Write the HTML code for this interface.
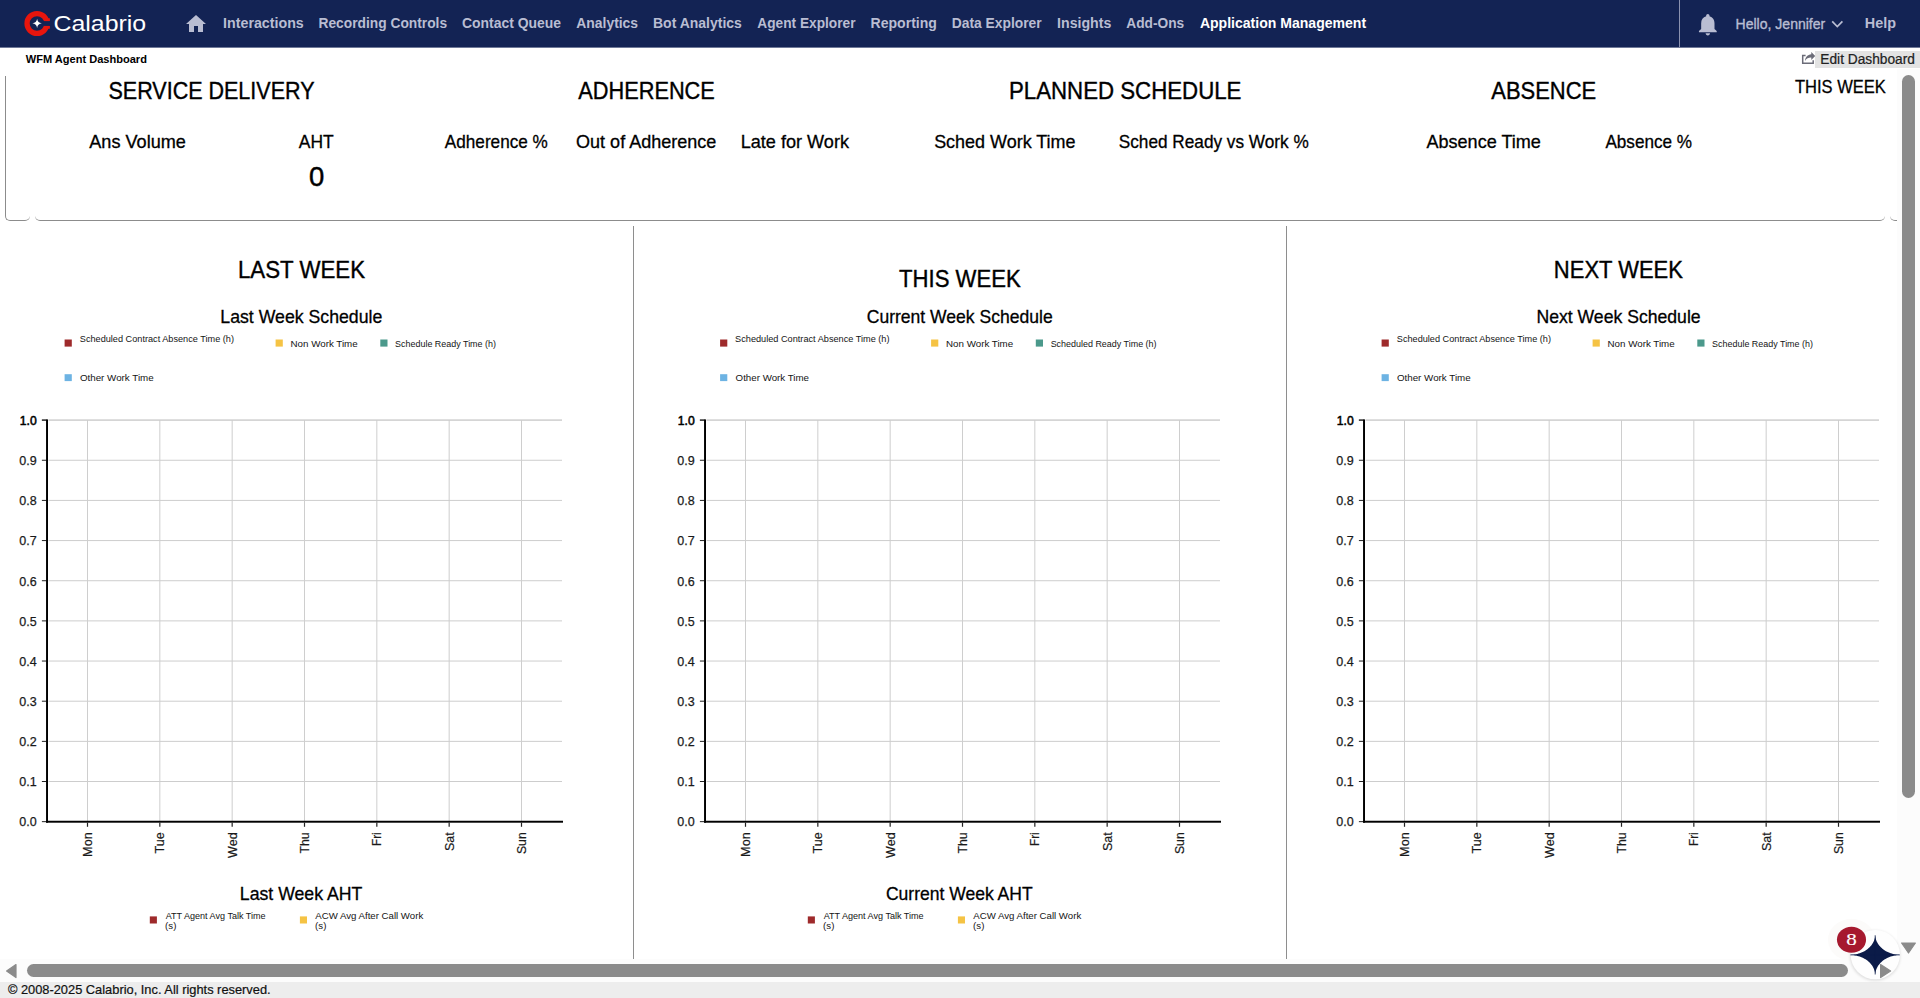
<!DOCTYPE html>
<html lang="en"><head><meta charset="utf-8"><title>WFM Agent Dashboard</title>
<style>
html,body{margin:0;padding:0}
body{width:1920px;height:998px;overflow:hidden;background:#fff;position:relative;font-family:'Liberation Sans',sans-serif;}
.t{position:absolute;left:0;top:0;white-space:pre;line-height:1;transform-origin:0 0;display:block}
.ov{position:absolute;left:0;top:0;overflow:visible}
.b{position:absolute}
#hdr{left:0;top:0;width:1920px;height:47px;background:#132354}
#hdr2{left:0;top:47px;width:1920px;height:1px;background:#6f7998}
#editbg{left:1815px;top:51px;width:105px;height:17px;background:#e3e3e3}
#box1{left:5px;top:76px;width:24px;height:144px;border-left:1px solid #8c8c8c;border-bottom:1px solid #8c8c8c;border-radius:0 0 5px 5px}
#box2{left:35px;top:70px;width:1850px;height:150px;border-bottom:1px solid #8c8c8c;border-radius:0 0 5px 5px}
#box3{left:1890px;top:70px;width:24px;height:150px;border-bottom:1px solid #8c8c8c;border-radius:0 0 5px 5px}
.vl{width:1px;top:226px;height:733px;background:#8e8e8e}
#vtrack{left:1897px;top:69px;width:23px;height:913px;background:#fcfcfc}
#htrack{left:0;top:959px;width:1920px;height:23px;background:#fcfcfc}
#vthumb{left:1902px;top:75px;width:13px;height:723px;border-radius:6.5px;background:#8b8b8b}
#hthumb{left:27px;top:964px;width:1821px;height:13px;border-radius:6.5px;background:#8b8b8b}
#foot{left:0;top:982px;width:1920px;height:16px;background:#ededed}
</style></head>
<body>
<header>
<div class="b" id="hdr"></div><div class="b" id="hdr2"></div>
<svg class="ov" width="1920" height="48" viewBox="0 0 1920 48">
<circle cx="37" cy="23.5" r="9.95" fill="none" stroke="#e7150d" stroke-width="5.3"/>
<rect x="46" y="18.3" width="3.9" height="2.8" fill="#e7150d"/><rect x="46" y="25.9" width="3.9" height="2.8" fill="#e7150d"/><rect x="43.7" y="21.1" width="8" height="4.8" fill="#132354"/>
<path d="M37.1 18.7 Q37.6 22.8 41.8 23.3 Q37.6 23.8 37.1 27.9 Q36.6 23.8 32.4 23.3 Q36.6 22.8 37.1 18.7Z" fill="#fff"/>
<g transform="translate(184,11.9)" fill="#b9bdd2"><path d="M10 20v-6h4v6h5v-8h3L12 3 2 12h3v8z"/></g>
<rect x="1679" y="0" width="1" height="47" fill="#8b92b0"/>
<g transform="translate(1694.5,11.1) scale(1.111)" fill="#b9bdd2"><path d="M12 22c1.1 0 2-.9 2-2h-4c0 1.1.89 2 2 2zm6-6v-5c0-3.07-1.64-5.64-4.5-6.32V4c0-.83-.67-1.5-1.5-1.5s-1.5.67-1.5 1.5v.68C7.63 5.36 6 7.92 6 11v5l-2 2v1h16v-1l-2-2z"/></g>
<polyline points="1832.2,21.4 1837.3,26.6 1842.4,21.4" fill="none" stroke="#b9bdd2" stroke-width="1.7"/>
</svg>
<nav>
<span class="t" style="font-size:15.2px;font-weight:700;color:#b9bdd2;transform:translate(223.07px,15.13px) scaleX(0.9375)">Interactions</span>
<span class="t" style="font-size:15.2px;font-weight:700;color:#b9bdd2;transform:translate(318.51px,15.13px) scaleX(0.9072)">Recording Controls</span>
<span class="t" style="font-size:15.2px;font-weight:700;color:#b9bdd2;transform:translate(462.03px,15.20px) scaleX(0.9172)">Contact Queue</span>
<span class="t" style="font-size:15.2px;font-weight:700;color:#b9bdd2;transform:translate(576.26px,15.17px) scaleX(0.9156)">Analytics</span>
<span class="t" style="font-size:15.2px;font-weight:700;color:#b9bdd2;transform:translate(653.01px,15.13px) scaleX(0.9208)">Bot Analytics</span>
<span class="t" style="font-size:15.2px;font-weight:700;color:#b9bdd2;transform:translate(757.33px,15.17px) scaleX(0.9015)">Agent Explorer</span>
<span class="t" style="font-size:15.2px;font-weight:700;color:#b9bdd2;transform:translate(870.55px,15.13px) scaleX(0.9248)">Reporting</span>
<span class="t" style="font-size:15.2px;font-weight:700;color:#b9bdd2;transform:translate(951.69px,15.13px) scaleX(0.9114)">Data Explorer</span>
<span class="t" style="font-size:15.2px;font-weight:700;color:#b9bdd2;transform:translate(1057.08px,15.13px) scaleX(0.9323)">Insights</span>
<span class="t" style="font-size:15.2px;font-weight:700;color:#b9bdd2;transform:translate(1126.30px,15.17px) scaleX(0.9039)">Add-Ons</span>
<span class="t" style="font-size:15.2px;font-weight:700;color:#ffffff;transform:translate(1199.88px,15.13px) scaleX(0.9246)">Application Management</span>
<span class="t" style="font-size:22px;color:#ffffff;transform:translate(53.41px,13.28px) scaleX(1.1320)">Calabrio</span>
<span class="t" style="-webkit-text-stroke:0.35px #b9bdd2;font-size:14.6px;color:#b9bdd2;transform:translate(1735.52px,17.37px) scaleX(0.9618)">Hello, Jennifer</span>
<span class="t" style="font-size:14.8px;font-weight:700;color:#b9bdd2;transform:translate(1864.87px,16.27px) scaleX(0.9748)">Help</span>
</nav>
</header>
<section id="toolbar">
<div class="b" id="editbg"></div>
<svg class="ov" style="left:1798px;top:49px" width="20" height="18" viewBox="1798 49 20 18">
<path d="M1805.6 55.6 H1802.7 V63.2 H1813.2 V60.3" fill="none" stroke="#6b6c78" stroke-width="1.5"/>
<path d="M1811.3 52 L1815.2 56 L1811.3 59.9 V57.6 C1808.6 57.5 1806.6 58.6 1805 60.9 C1805.3 57.3 1807.6 54.6 1811.3 54.3 Z" fill="#6b6c78"/>
</svg>
<span class="t" style="font-size:11px;font-weight:700;color:#000;transform:translate(25.76px,53.69px) scaleX(1.0046)">WFM Agent Dashboard</span>
<span class="t" style="-webkit-text-stroke:0.22px #222;font-size:13.8px;color:#222;transform:translate(1820.32px,53.42px) scaleX(0.9942)">Edit Dashboard</span>
</section>
<main>
<div class="b" id="box1"></div><div class="b" id="box2"></div><div class="b" id="box3"></div>
<div class="b vl" style="left:633px"></div><div class="b vl" style="left:1286px"></div>
<svg class="ov" width="1920" height="998" viewBox="0 0 1920 998" font-family="Liberation Sans, sans-serif">
<line x1="48.6" x2="562" y1="420.10" y2="420.10" stroke="#cdcdcd" stroke-width="1"/>
<line x1="48.6" x2="562" y1="420.10" y2="420.10" stroke="#cdcdcd" stroke-width="1"/>
<line x1="48.6" x2="562" y1="460.26" y2="460.26" stroke="#cdcdcd" stroke-width="1"/>
<line x1="48.6" x2="562" y1="500.41" y2="500.41" stroke="#cdcdcd" stroke-width="1"/>
<line x1="48.6" x2="562" y1="540.57" y2="540.57" stroke="#cdcdcd" stroke-width="1"/>
<line x1="48.6" x2="562" y1="580.73" y2="580.73" stroke="#cdcdcd" stroke-width="1"/>
<line x1="48.6" x2="562" y1="620.88" y2="620.88" stroke="#cdcdcd" stroke-width="1"/>
<line x1="48.6" x2="562" y1="661.04" y2="661.04" stroke="#cdcdcd" stroke-width="1"/>
<line x1="48.6" x2="562" y1="701.20" y2="701.20" stroke="#cdcdcd" stroke-width="1"/>
<line x1="48.6" x2="562" y1="741.36" y2="741.36" stroke="#cdcdcd" stroke-width="1"/>
<line x1="48.6" x2="562" y1="781.51" y2="781.51" stroke="#cdcdcd" stroke-width="1"/>
<line x1="87.50" x2="87.50" y1="420" y2="821" stroke="#cecece" stroke-width="1"/>
<line x1="159.83" x2="159.83" y1="420" y2="821" stroke="#cecece" stroke-width="1"/>
<line x1="232.17" x2="232.17" y1="420" y2="821" stroke="#cecece" stroke-width="1"/>
<line x1="304.50" x2="304.50" y1="420" y2="821" stroke="#cecece" stroke-width="1"/>
<line x1="376.83" x2="376.83" y1="420" y2="821" stroke="#cecece" stroke-width="1"/>
<line x1="449.16" x2="449.16" y1="420" y2="821" stroke="#cecece" stroke-width="1"/>
<line x1="521.50" x2="521.50" y1="420" y2="821" stroke="#cecece" stroke-width="1"/>
<line x1="41.90" x2="46.50" y1="420.10" y2="420.10" stroke="#222" stroke-width="1"/>
<line x1="41.90" x2="46.50" y1="420.10" y2="420.10" stroke="#222" stroke-width="1"/>
<line x1="41.90" x2="46.50" y1="460.26" y2="460.26" stroke="#222" stroke-width="1"/>
<line x1="41.90" x2="46.50" y1="500.41" y2="500.41" stroke="#222" stroke-width="1"/>
<line x1="41.90" x2="46.50" y1="540.57" y2="540.57" stroke="#222" stroke-width="1"/>
<line x1="41.90" x2="46.50" y1="580.73" y2="580.73" stroke="#222" stroke-width="1"/>
<line x1="41.90" x2="46.50" y1="620.88" y2="620.88" stroke="#222" stroke-width="1"/>
<line x1="41.90" x2="46.50" y1="661.04" y2="661.04" stroke="#222" stroke-width="1"/>
<line x1="41.90" x2="46.50" y1="701.20" y2="701.20" stroke="#222" stroke-width="1"/>
<line x1="41.90" x2="46.50" y1="741.36" y2="741.36" stroke="#222" stroke-width="1"/>
<line x1="41.90" x2="46.50" y1="781.51" y2="781.51" stroke="#222" stroke-width="1"/>
<line x1="41.90" x2="46.50" y1="821.67" y2="821.67" stroke="#222" stroke-width="1"/>
<rect x="46.05" y="419.4" width="1.95" height="403.3" fill="#000"/>
<rect x="46.05" y="820.75" width="516.95" height="1.95" fill="#000"/>
<line x1="87.50" x2="87.50" y1="822.5" y2="826.8" stroke="#222" stroke-width="1.2"/>
<line x1="159.83" x2="159.83" y1="822.5" y2="826.8" stroke="#222" stroke-width="1.2"/>
<line x1="232.17" x2="232.17" y1="822.5" y2="826.8" stroke="#222" stroke-width="1.2"/>
<line x1="304.50" x2="304.50" y1="822.5" y2="826.8" stroke="#222" stroke-width="1.2"/>
<line x1="376.83" x2="376.83" y1="822.5" y2="826.8" stroke="#222" stroke-width="1.2"/>
<line x1="449.16" x2="449.16" y1="822.5" y2="826.8" stroke="#222" stroke-width="1.2"/>
<line x1="521.50" x2="521.50" y1="822.5" y2="826.8" stroke="#222" stroke-width="1.2"/>
<text x="36.7" y="424.95" text-anchor="end" font-size="12.7" fill="#000" stroke="#000" stroke-width="0.55" textLength="16.9" lengthAdjust="spacingAndGlyphs">1.0</text>
<text x="36.7" y="465.11" text-anchor="end" font-size="12.7" fill="#1a1a1a" stroke="#1a1a1a" stroke-width="0.25" textLength="17.4" lengthAdjust="spacingAndGlyphs">0.9</text>
<text x="36.7" y="505.26" text-anchor="end" font-size="12.7" fill="#1a1a1a" stroke="#1a1a1a" stroke-width="0.25" textLength="17.4" lengthAdjust="spacingAndGlyphs">0.8</text>
<text x="36.7" y="545.42" text-anchor="end" font-size="12.7" fill="#1a1a1a" stroke="#1a1a1a" stroke-width="0.25" textLength="17.4" lengthAdjust="spacingAndGlyphs">0.7</text>
<text x="36.7" y="585.58" text-anchor="end" font-size="12.7" fill="#1a1a1a" stroke="#1a1a1a" stroke-width="0.25" textLength="17.4" lengthAdjust="spacingAndGlyphs">0.6</text>
<text x="36.7" y="625.74" text-anchor="end" font-size="12.7" fill="#1a1a1a" stroke="#1a1a1a" stroke-width="0.25" textLength="17.4" lengthAdjust="spacingAndGlyphs">0.5</text>
<text x="36.7" y="665.89" text-anchor="end" font-size="12.7" fill="#1a1a1a" stroke="#1a1a1a" stroke-width="0.25" textLength="17.4" lengthAdjust="spacingAndGlyphs">0.4</text>
<text x="36.7" y="706.05" text-anchor="end" font-size="12.7" fill="#1a1a1a" stroke="#1a1a1a" stroke-width="0.25" textLength="17.4" lengthAdjust="spacingAndGlyphs">0.3</text>
<text x="36.7" y="746.21" text-anchor="end" font-size="12.7" fill="#1a1a1a" stroke="#1a1a1a" stroke-width="0.25" textLength="17.4" lengthAdjust="spacingAndGlyphs">0.2</text>
<text x="36.7" y="786.36" text-anchor="end" font-size="12.7" fill="#1a1a1a" stroke="#1a1a1a" stroke-width="0.25" textLength="17.4" lengthAdjust="spacingAndGlyphs">0.1</text>
<text x="36.7" y="825.90" text-anchor="end" font-size="12.7" fill="#1a1a1a" stroke="#1a1a1a" stroke-width="0.25" textLength="17.4" lengthAdjust="spacingAndGlyphs">0.0</text>
<text transform="translate(92.05,832.3) rotate(-90)" text-anchor="end" font-size="13.2" fill="#1a1a1a" stroke="#1a1a1a" stroke-width="0.2" textLength="24.6" lengthAdjust="spacingAndGlyphs">Mon</text>
<text transform="translate(164.38,832.3) rotate(-90)" text-anchor="end" font-size="13.2" fill="#1a1a1a" stroke="#1a1a1a" stroke-width="0.2" textLength="21.2" lengthAdjust="spacingAndGlyphs">Tue</text>
<text transform="translate(236.72,832.3) rotate(-90)" text-anchor="end" font-size="13.2" fill="#1a1a1a" stroke="#1a1a1a" stroke-width="0.2" textLength="25.6" lengthAdjust="spacingAndGlyphs">Wed</text>
<text transform="translate(309.05,832.3) rotate(-90)" text-anchor="end" font-size="13.2" fill="#1a1a1a" stroke="#1a1a1a" stroke-width="0.2" textLength="21.2" lengthAdjust="spacingAndGlyphs">Thu</text>
<text transform="translate(381.38,832.3) rotate(-90)" text-anchor="end" font-size="13.2" fill="#1a1a1a" stroke="#1a1a1a" stroke-width="0.2" textLength="13.6" lengthAdjust="spacingAndGlyphs">Fri</text>
<text transform="translate(453.71,832.3) rotate(-90)" text-anchor="end" font-size="13.2" fill="#1a1a1a" stroke="#1a1a1a" stroke-width="0.2" textLength="18.8" lengthAdjust="spacingAndGlyphs">Sat</text>
<text transform="translate(526.05,832.3) rotate(-90)" text-anchor="end" font-size="13.2" fill="#1a1a1a" stroke="#1a1a1a" stroke-width="0.2" textLength="21.8" lengthAdjust="spacingAndGlyphs">Sun</text>
<line x1="706.6" x2="1220" y1="420.10" y2="420.10" stroke="#cdcdcd" stroke-width="1"/>
<line x1="706.6" x2="1220" y1="420.10" y2="420.10" stroke="#cdcdcd" stroke-width="1"/>
<line x1="706.6" x2="1220" y1="460.26" y2="460.26" stroke="#cdcdcd" stroke-width="1"/>
<line x1="706.6" x2="1220" y1="500.41" y2="500.41" stroke="#cdcdcd" stroke-width="1"/>
<line x1="706.6" x2="1220" y1="540.57" y2="540.57" stroke="#cdcdcd" stroke-width="1"/>
<line x1="706.6" x2="1220" y1="580.73" y2="580.73" stroke="#cdcdcd" stroke-width="1"/>
<line x1="706.6" x2="1220" y1="620.88" y2="620.88" stroke="#cdcdcd" stroke-width="1"/>
<line x1="706.6" x2="1220" y1="661.04" y2="661.04" stroke="#cdcdcd" stroke-width="1"/>
<line x1="706.6" x2="1220" y1="701.20" y2="701.20" stroke="#cdcdcd" stroke-width="1"/>
<line x1="706.6" x2="1220" y1="741.36" y2="741.36" stroke="#cdcdcd" stroke-width="1"/>
<line x1="706.6" x2="1220" y1="781.51" y2="781.51" stroke="#cdcdcd" stroke-width="1"/>
<line x1="745.50" x2="745.50" y1="420" y2="821" stroke="#cecece" stroke-width="1"/>
<line x1="817.83" x2="817.83" y1="420" y2="821" stroke="#cecece" stroke-width="1"/>
<line x1="890.17" x2="890.17" y1="420" y2="821" stroke="#cecece" stroke-width="1"/>
<line x1="962.50" x2="962.50" y1="420" y2="821" stroke="#cecece" stroke-width="1"/>
<line x1="1034.83" x2="1034.83" y1="420" y2="821" stroke="#cecece" stroke-width="1"/>
<line x1="1107.16" x2="1107.16" y1="420" y2="821" stroke="#cecece" stroke-width="1"/>
<line x1="1179.50" x2="1179.50" y1="420" y2="821" stroke="#cecece" stroke-width="1"/>
<line x1="699.90" x2="704.50" y1="420.10" y2="420.10" stroke="#222" stroke-width="1"/>
<line x1="699.90" x2="704.50" y1="420.10" y2="420.10" stroke="#222" stroke-width="1"/>
<line x1="699.90" x2="704.50" y1="460.26" y2="460.26" stroke="#222" stroke-width="1"/>
<line x1="699.90" x2="704.50" y1="500.41" y2="500.41" stroke="#222" stroke-width="1"/>
<line x1="699.90" x2="704.50" y1="540.57" y2="540.57" stroke="#222" stroke-width="1"/>
<line x1="699.90" x2="704.50" y1="580.73" y2="580.73" stroke="#222" stroke-width="1"/>
<line x1="699.90" x2="704.50" y1="620.88" y2="620.88" stroke="#222" stroke-width="1"/>
<line x1="699.90" x2="704.50" y1="661.04" y2="661.04" stroke="#222" stroke-width="1"/>
<line x1="699.90" x2="704.50" y1="701.20" y2="701.20" stroke="#222" stroke-width="1"/>
<line x1="699.90" x2="704.50" y1="741.36" y2="741.36" stroke="#222" stroke-width="1"/>
<line x1="699.90" x2="704.50" y1="781.51" y2="781.51" stroke="#222" stroke-width="1"/>
<line x1="699.90" x2="704.50" y1="821.67" y2="821.67" stroke="#222" stroke-width="1"/>
<rect x="704.05" y="419.4" width="1.95" height="403.3" fill="#000"/>
<rect x="704.05" y="820.75" width="516.95" height="1.95" fill="#000"/>
<line x1="745.50" x2="745.50" y1="822.5" y2="826.8" stroke="#222" stroke-width="1.2"/>
<line x1="817.83" x2="817.83" y1="822.5" y2="826.8" stroke="#222" stroke-width="1.2"/>
<line x1="890.17" x2="890.17" y1="822.5" y2="826.8" stroke="#222" stroke-width="1.2"/>
<line x1="962.50" x2="962.50" y1="822.5" y2="826.8" stroke="#222" stroke-width="1.2"/>
<line x1="1034.83" x2="1034.83" y1="822.5" y2="826.8" stroke="#222" stroke-width="1.2"/>
<line x1="1107.16" x2="1107.16" y1="822.5" y2="826.8" stroke="#222" stroke-width="1.2"/>
<line x1="1179.50" x2="1179.50" y1="822.5" y2="826.8" stroke="#222" stroke-width="1.2"/>
<text x="694.7" y="424.95" text-anchor="end" font-size="12.7" fill="#000" stroke="#000" stroke-width="0.55" textLength="16.9" lengthAdjust="spacingAndGlyphs">1.0</text>
<text x="694.7" y="465.11" text-anchor="end" font-size="12.7" fill="#1a1a1a" stroke="#1a1a1a" stroke-width="0.25" textLength="17.4" lengthAdjust="spacingAndGlyphs">0.9</text>
<text x="694.7" y="505.26" text-anchor="end" font-size="12.7" fill="#1a1a1a" stroke="#1a1a1a" stroke-width="0.25" textLength="17.4" lengthAdjust="spacingAndGlyphs">0.8</text>
<text x="694.7" y="545.42" text-anchor="end" font-size="12.7" fill="#1a1a1a" stroke="#1a1a1a" stroke-width="0.25" textLength="17.4" lengthAdjust="spacingAndGlyphs">0.7</text>
<text x="694.7" y="585.58" text-anchor="end" font-size="12.7" fill="#1a1a1a" stroke="#1a1a1a" stroke-width="0.25" textLength="17.4" lengthAdjust="spacingAndGlyphs">0.6</text>
<text x="694.7" y="625.74" text-anchor="end" font-size="12.7" fill="#1a1a1a" stroke="#1a1a1a" stroke-width="0.25" textLength="17.4" lengthAdjust="spacingAndGlyphs">0.5</text>
<text x="694.7" y="665.89" text-anchor="end" font-size="12.7" fill="#1a1a1a" stroke="#1a1a1a" stroke-width="0.25" textLength="17.4" lengthAdjust="spacingAndGlyphs">0.4</text>
<text x="694.7" y="706.05" text-anchor="end" font-size="12.7" fill="#1a1a1a" stroke="#1a1a1a" stroke-width="0.25" textLength="17.4" lengthAdjust="spacingAndGlyphs">0.3</text>
<text x="694.7" y="746.21" text-anchor="end" font-size="12.7" fill="#1a1a1a" stroke="#1a1a1a" stroke-width="0.25" textLength="17.4" lengthAdjust="spacingAndGlyphs">0.2</text>
<text x="694.7" y="786.36" text-anchor="end" font-size="12.7" fill="#1a1a1a" stroke="#1a1a1a" stroke-width="0.25" textLength="17.4" lengthAdjust="spacingAndGlyphs">0.1</text>
<text x="694.7" y="825.90" text-anchor="end" font-size="12.7" fill="#1a1a1a" stroke="#1a1a1a" stroke-width="0.25" textLength="17.4" lengthAdjust="spacingAndGlyphs">0.0</text>
<text transform="translate(750.05,832.3) rotate(-90)" text-anchor="end" font-size="13.2" fill="#1a1a1a" stroke="#1a1a1a" stroke-width="0.2" textLength="24.6" lengthAdjust="spacingAndGlyphs">Mon</text>
<text transform="translate(822.38,832.3) rotate(-90)" text-anchor="end" font-size="13.2" fill="#1a1a1a" stroke="#1a1a1a" stroke-width="0.2" textLength="21.2" lengthAdjust="spacingAndGlyphs">Tue</text>
<text transform="translate(894.72,832.3) rotate(-90)" text-anchor="end" font-size="13.2" fill="#1a1a1a" stroke="#1a1a1a" stroke-width="0.2" textLength="25.6" lengthAdjust="spacingAndGlyphs">Wed</text>
<text transform="translate(967.05,832.3) rotate(-90)" text-anchor="end" font-size="13.2" fill="#1a1a1a" stroke="#1a1a1a" stroke-width="0.2" textLength="21.2" lengthAdjust="spacingAndGlyphs">Thu</text>
<text transform="translate(1039.38,832.3) rotate(-90)" text-anchor="end" font-size="13.2" fill="#1a1a1a" stroke="#1a1a1a" stroke-width="0.2" textLength="13.6" lengthAdjust="spacingAndGlyphs">Fri</text>
<text transform="translate(1111.71,832.3) rotate(-90)" text-anchor="end" font-size="13.2" fill="#1a1a1a" stroke="#1a1a1a" stroke-width="0.2" textLength="18.8" lengthAdjust="spacingAndGlyphs">Sat</text>
<text transform="translate(1184.05,832.3) rotate(-90)" text-anchor="end" font-size="13.2" fill="#1a1a1a" stroke="#1a1a1a" stroke-width="0.2" textLength="21.8" lengthAdjust="spacingAndGlyphs">Sun</text>
<line x1="1365.6" x2="1879" y1="420.10" y2="420.10" stroke="#cdcdcd" stroke-width="1"/>
<line x1="1365.6" x2="1879" y1="420.10" y2="420.10" stroke="#cdcdcd" stroke-width="1"/>
<line x1="1365.6" x2="1879" y1="460.26" y2="460.26" stroke="#cdcdcd" stroke-width="1"/>
<line x1="1365.6" x2="1879" y1="500.41" y2="500.41" stroke="#cdcdcd" stroke-width="1"/>
<line x1="1365.6" x2="1879" y1="540.57" y2="540.57" stroke="#cdcdcd" stroke-width="1"/>
<line x1="1365.6" x2="1879" y1="580.73" y2="580.73" stroke="#cdcdcd" stroke-width="1"/>
<line x1="1365.6" x2="1879" y1="620.88" y2="620.88" stroke="#cdcdcd" stroke-width="1"/>
<line x1="1365.6" x2="1879" y1="661.04" y2="661.04" stroke="#cdcdcd" stroke-width="1"/>
<line x1="1365.6" x2="1879" y1="701.20" y2="701.20" stroke="#cdcdcd" stroke-width="1"/>
<line x1="1365.6" x2="1879" y1="741.36" y2="741.36" stroke="#cdcdcd" stroke-width="1"/>
<line x1="1365.6" x2="1879" y1="781.51" y2="781.51" stroke="#cdcdcd" stroke-width="1"/>
<line x1="1404.50" x2="1404.50" y1="420" y2="821" stroke="#cecece" stroke-width="1"/>
<line x1="1476.83" x2="1476.83" y1="420" y2="821" stroke="#cecece" stroke-width="1"/>
<line x1="1549.17" x2="1549.17" y1="420" y2="821" stroke="#cecece" stroke-width="1"/>
<line x1="1621.50" x2="1621.50" y1="420" y2="821" stroke="#cecece" stroke-width="1"/>
<line x1="1693.83" x2="1693.83" y1="420" y2="821" stroke="#cecece" stroke-width="1"/>
<line x1="1766.16" x2="1766.16" y1="420" y2="821" stroke="#cecece" stroke-width="1"/>
<line x1="1838.50" x2="1838.50" y1="420" y2="821" stroke="#cecece" stroke-width="1"/>
<line x1="1358.90" x2="1363.50" y1="420.10" y2="420.10" stroke="#222" stroke-width="1"/>
<line x1="1358.90" x2="1363.50" y1="420.10" y2="420.10" stroke="#222" stroke-width="1"/>
<line x1="1358.90" x2="1363.50" y1="460.26" y2="460.26" stroke="#222" stroke-width="1"/>
<line x1="1358.90" x2="1363.50" y1="500.41" y2="500.41" stroke="#222" stroke-width="1"/>
<line x1="1358.90" x2="1363.50" y1="540.57" y2="540.57" stroke="#222" stroke-width="1"/>
<line x1="1358.90" x2="1363.50" y1="580.73" y2="580.73" stroke="#222" stroke-width="1"/>
<line x1="1358.90" x2="1363.50" y1="620.88" y2="620.88" stroke="#222" stroke-width="1"/>
<line x1="1358.90" x2="1363.50" y1="661.04" y2="661.04" stroke="#222" stroke-width="1"/>
<line x1="1358.90" x2="1363.50" y1="701.20" y2="701.20" stroke="#222" stroke-width="1"/>
<line x1="1358.90" x2="1363.50" y1="741.36" y2="741.36" stroke="#222" stroke-width="1"/>
<line x1="1358.90" x2="1363.50" y1="781.51" y2="781.51" stroke="#222" stroke-width="1"/>
<line x1="1358.90" x2="1363.50" y1="821.67" y2="821.67" stroke="#222" stroke-width="1"/>
<rect x="1363.05" y="419.4" width="1.95" height="403.3" fill="#000"/>
<rect x="1363.05" y="820.75" width="516.95" height="1.95" fill="#000"/>
<line x1="1404.50" x2="1404.50" y1="822.5" y2="826.8" stroke="#222" stroke-width="1.2"/>
<line x1="1476.83" x2="1476.83" y1="822.5" y2="826.8" stroke="#222" stroke-width="1.2"/>
<line x1="1549.17" x2="1549.17" y1="822.5" y2="826.8" stroke="#222" stroke-width="1.2"/>
<line x1="1621.50" x2="1621.50" y1="822.5" y2="826.8" stroke="#222" stroke-width="1.2"/>
<line x1="1693.83" x2="1693.83" y1="822.5" y2="826.8" stroke="#222" stroke-width="1.2"/>
<line x1="1766.16" x2="1766.16" y1="822.5" y2="826.8" stroke="#222" stroke-width="1.2"/>
<line x1="1838.50" x2="1838.50" y1="822.5" y2="826.8" stroke="#222" stroke-width="1.2"/>
<text x="1353.7" y="424.95" text-anchor="end" font-size="12.7" fill="#000" stroke="#000" stroke-width="0.55" textLength="16.9" lengthAdjust="spacingAndGlyphs">1.0</text>
<text x="1353.7" y="465.11" text-anchor="end" font-size="12.7" fill="#1a1a1a" stroke="#1a1a1a" stroke-width="0.25" textLength="17.4" lengthAdjust="spacingAndGlyphs">0.9</text>
<text x="1353.7" y="505.26" text-anchor="end" font-size="12.7" fill="#1a1a1a" stroke="#1a1a1a" stroke-width="0.25" textLength="17.4" lengthAdjust="spacingAndGlyphs">0.8</text>
<text x="1353.7" y="545.42" text-anchor="end" font-size="12.7" fill="#1a1a1a" stroke="#1a1a1a" stroke-width="0.25" textLength="17.4" lengthAdjust="spacingAndGlyphs">0.7</text>
<text x="1353.7" y="585.58" text-anchor="end" font-size="12.7" fill="#1a1a1a" stroke="#1a1a1a" stroke-width="0.25" textLength="17.4" lengthAdjust="spacingAndGlyphs">0.6</text>
<text x="1353.7" y="625.74" text-anchor="end" font-size="12.7" fill="#1a1a1a" stroke="#1a1a1a" stroke-width="0.25" textLength="17.4" lengthAdjust="spacingAndGlyphs">0.5</text>
<text x="1353.7" y="665.89" text-anchor="end" font-size="12.7" fill="#1a1a1a" stroke="#1a1a1a" stroke-width="0.25" textLength="17.4" lengthAdjust="spacingAndGlyphs">0.4</text>
<text x="1353.7" y="706.05" text-anchor="end" font-size="12.7" fill="#1a1a1a" stroke="#1a1a1a" stroke-width="0.25" textLength="17.4" lengthAdjust="spacingAndGlyphs">0.3</text>
<text x="1353.7" y="746.21" text-anchor="end" font-size="12.7" fill="#1a1a1a" stroke="#1a1a1a" stroke-width="0.25" textLength="17.4" lengthAdjust="spacingAndGlyphs">0.2</text>
<text x="1353.7" y="786.36" text-anchor="end" font-size="12.7" fill="#1a1a1a" stroke="#1a1a1a" stroke-width="0.25" textLength="17.4" lengthAdjust="spacingAndGlyphs">0.1</text>
<text x="1353.7" y="825.90" text-anchor="end" font-size="12.7" fill="#1a1a1a" stroke="#1a1a1a" stroke-width="0.25" textLength="17.4" lengthAdjust="spacingAndGlyphs">0.0</text>
<text transform="translate(1409.05,832.3) rotate(-90)" text-anchor="end" font-size="13.2" fill="#1a1a1a" stroke="#1a1a1a" stroke-width="0.2" textLength="24.6" lengthAdjust="spacingAndGlyphs">Mon</text>
<text transform="translate(1481.38,832.3) rotate(-90)" text-anchor="end" font-size="13.2" fill="#1a1a1a" stroke="#1a1a1a" stroke-width="0.2" textLength="21.2" lengthAdjust="spacingAndGlyphs">Tue</text>
<text transform="translate(1553.72,832.3) rotate(-90)" text-anchor="end" font-size="13.2" fill="#1a1a1a" stroke="#1a1a1a" stroke-width="0.2" textLength="25.6" lengthAdjust="spacingAndGlyphs">Wed</text>
<text transform="translate(1626.05,832.3) rotate(-90)" text-anchor="end" font-size="13.2" fill="#1a1a1a" stroke="#1a1a1a" stroke-width="0.2" textLength="21.2" lengthAdjust="spacingAndGlyphs">Thu</text>
<text transform="translate(1698.38,832.3) rotate(-90)" text-anchor="end" font-size="13.2" fill="#1a1a1a" stroke="#1a1a1a" stroke-width="0.2" textLength="13.6" lengthAdjust="spacingAndGlyphs">Fri</text>
<text transform="translate(1770.71,832.3) rotate(-90)" text-anchor="end" font-size="13.2" fill="#1a1a1a" stroke="#1a1a1a" stroke-width="0.2" textLength="18.8" lengthAdjust="spacingAndGlyphs">Sat</text>
<text transform="translate(1843.05,832.3) rotate(-90)" text-anchor="end" font-size="13.2" fill="#1a1a1a" stroke="#1a1a1a" stroke-width="0.2" textLength="21.8" lengthAdjust="spacingAndGlyphs">Sun</text>
<rect x="64.6" y="339.5" width="7.2" height="7.1" fill="#9e2a2b"/>
<rect x="275.6" y="339.5" width="7.2" height="7.1" fill="#f5c344"/>
<rect x="380.3" y="339.5" width="7.2" height="7.1" fill="#4b998b"/>
<rect x="64.6" y="374.2" width="7.2" height="6.9" fill="#6db3e3"/>
<rect x="720.1" y="339.5" width="7.2" height="7.1" fill="#9e2a2b"/>
<rect x="931.1" y="339.5" width="7.2" height="7.1" fill="#f5c344"/>
<rect x="1035.8" y="339.5" width="7.2" height="7.1" fill="#4b998b"/>
<rect x="720.1" y="374.2" width="7.2" height="6.9" fill="#6db3e3"/>
<rect x="1381.6" y="339.5" width="7.2" height="7.1" fill="#9e2a2b"/>
<rect x="1592.6" y="339.5" width="7.2" height="7.1" fill="#f5c344"/>
<rect x="1697.3" y="339.5" width="7.2" height="7.1" fill="#4b998b"/>
<rect x="1381.6" y="374.2" width="7.2" height="6.9" fill="#6db3e3"/>
<rect x="149.8" y="916.4" width="7.1" height="7.1" fill="#9e2a2b"/><rect x="299.9" y="916.4" width="7.1" height="7.1" fill="#f5c344"/>
<rect x="807.8" y="916.4" width="7.1" height="7.1" fill="#9e2a2b"/><rect x="957.9" y="916.4" width="7.1" height="7.1" fill="#f5c344"/>
</svg>
<span class="t" style="-webkit-text-stroke:0.40px #000;font-size:24.8px;color:#000;transform:translate(108.47px,78.97px) scaleX(0.8674)">SERVICE DELIVERY</span>
<span class="t" style="-webkit-text-stroke:0.40px #000;font-size:24.8px;color:#000;transform:translate(578.26px,78.91px) scaleX(0.8769)">ADHERENCE</span>
<span class="t" style="-webkit-text-stroke:0.40px #000;font-size:24.8px;color:#000;transform:translate(1008.91px,78.91px) scaleX(0.8976)">PLANNED SCHEDULE</span>
<span class="t" style="-webkit-text-stroke:0.40px #000;font-size:24.8px;color:#000;transform:translate(1491.25px,78.91px) scaleX(0.8849)">ABSENCE</span>
<span class="t" style="-webkit-text-stroke:0.30px #000;font-size:18.6px;color:#000;transform:translate(1794.95px,78.47px) scaleX(0.8884)">THIS WEEK</span>
<span class="t" style="-webkit-text-stroke:0.30px #000;font-size:18.6px;color:#000;transform:translate(89.29px,132.93px) scaleX(0.9734)">Ans Volume</span>
<span class="t" style="-webkit-text-stroke:0.30px #000;font-size:18.6px;color:#000;transform:translate(298.85px,133.11px) scaleX(0.9394)">AHT</span>
<span class="t" style="-webkit-text-stroke:0.30px #000;font-size:18.6px;color:#000;transform:translate(444.87px,133.16px) scaleX(0.9219)">Adherence %</span>
<span class="t" style="-webkit-text-stroke:0.30px #000;font-size:18.6px;color:#000;transform:translate(576.09px,132.96px) scaleX(0.9683)">Out of Adherence</span>
<span class="t" style="-webkit-text-stroke:0.30px #000;font-size:18.6px;color:#000;transform:translate(740.69px,132.86px) scaleX(0.9732)">Late for Work</span>
<span class="t" style="-webkit-text-stroke:0.30px #000;font-size:18.6px;color:#000;transform:translate(934.14px,132.96px) scaleX(0.9658)">Sched Work Time</span>
<span class="t" style="-webkit-text-stroke:0.30px #000;font-size:18.6px;color:#000;transform:translate(1118.72px,132.93px) scaleX(0.9258)">Sched Ready vs Work %</span>
<span class="t" style="-webkit-text-stroke:0.30px #000;font-size:18.6px;color:#000;transform:translate(1426.47px,132.86px) scaleX(0.9709)">Absence Time</span>
<span class="t" style="-webkit-text-stroke:0.30px #000;font-size:18.6px;color:#000;transform:translate(1605.38px,132.98px) scaleX(0.9219)">Absence %</span>
<span class="t" style="-webkit-text-stroke:0.44px #000;font-size:27.4px;color:#000;transform:translate(309.00px,163.15px) scaleX(1.0031)">0</span>
<span class="t" style="-webkit-text-stroke:0.40px #000;font-size:24.8px;color:#000;transform:translate(237.97px,258.31px) scaleX(0.8981)">LAST WEEK</span>
<span class="t" style="-webkit-text-stroke:0.40px #000;font-size:24.8px;color:#000;transform:translate(899.00px,267.01px) scaleX(0.8919)">THIS WEEK</span>
<span class="t" style="-webkit-text-stroke:0.40px #000;font-size:24.8px;color:#000;transform:translate(1553.86px,258.31px) scaleX(0.8859)">NEXT WEEK</span>
<span class="t" style="-webkit-text-stroke:0.30px #000;font-size:18.6px;color:#000;transform:translate(220.35px,308.26px) scaleX(0.9513)">Last Week Schedule</span>
<span class="t" style="-webkit-text-stroke:0.30px #000;font-size:18.6px;color:#000;transform:translate(866.73px,308.26px) scaleX(0.9435)">Current Week Schedule</span>
<span class="t" style="-webkit-text-stroke:0.30px #000;font-size:18.6px;color:#000;transform:translate(1536.45px,308.26px) scaleX(0.9474)">Next Week Schedule</span>
<span class="t" style="-webkit-text-stroke:0.30px #000;font-size:18.6px;color:#000;transform:translate(239.84px,884.96px) scaleX(0.9506)">Last Week AHT</span>
<span class="t" style="-webkit-text-stroke:0.30px #000;font-size:18.6px;color:#000;transform:translate(885.89px,884.96px) scaleX(0.9426)">Current Week AHT</span>
<span class="t" style="font-size:9.4px;color:#141414;transform:translate(79.77px,334.22px) scaleX(0.9766)">Scheduled Contract Absence Time (h)</span>
<span class="t" style="font-size:9.4px;color:#141414;transform:translate(290.49px,338.96px) scaleX(1.0432)">Non Work Time</span>
<span class="t" style="font-size:9.4px;color:#141414;transform:translate(395.10px,338.65px) scaleX(0.9532)">Schedule Ready Time (h)</span>
<span class="t" style="font-size:9.4px;color:#141414;transform:translate(79.88px,373.12px) scaleX(1.0442)">Other Work Time</span>
<span class="t" style="font-size:9.4px;color:#141414;transform:translate(735.09px,334.24px) scaleX(0.9781)">Scheduled Contract Absence Time (h)</span>
<span class="t" style="font-size:9.4px;color:#141414;transform:translate(946.01px,338.74px) scaleX(1.0424)">Non Work Time</span>
<span class="t" style="font-size:9.4px;color:#141414;transform:translate(1050.66px,338.65px) scaleX(0.9537)">Scheduled Ready Time (h)</span>
<span class="t" style="font-size:9.4px;color:#141414;transform:translate(735.58px,373.21px) scaleX(1.0385)">Other Work Time</span>
<span class="t" style="font-size:9.4px;color:#141414;transform:translate(1396.77px,334.22px) scaleX(0.9766)">Scheduled Contract Absence Time (h)</span>
<span class="t" style="font-size:9.4px;color:#141414;transform:translate(1607.49px,338.96px) scaleX(1.0432)">Non Work Time</span>
<span class="t" style="font-size:9.4px;color:#141414;transform:translate(1712.10px,338.65px) scaleX(0.9532)">Schedule Ready Time (h)</span>
<span class="t" style="font-size:9.4px;color:#141414;transform:translate(1396.88px,373.12px) scaleX(1.0442)">Other Work Time</span>
<span class="t" style="font-size:9.4px;color:#141414;transform:translate(165.64px,911.46px) scaleX(0.9658)">ATT Agent Avg Talk Time</span>
<span class="t" style="font-size:9.4px;color:#141414;transform:translate(165.10px,920.97px) scaleX(1.0282)">(s)</span>
<span class="t" style="font-size:9.4px;color:#141414;transform:translate(315.25px,911.30px) scaleX(1.0293)">ACW Avg After Call Work</span>
<span class="t" style="font-size:9.4px;color:#141414;transform:translate(315.10px,920.97px) scaleX(1.0282)">(s)</span>
<span class="t" style="font-size:9.4px;color:#141414;transform:translate(823.64px,911.46px) scaleX(0.9658)">ATT Agent Avg Talk Time</span>
<span class="t" style="font-size:9.4px;color:#141414;transform:translate(823.10px,920.97px) scaleX(1.0282)">(s)</span>
<span class="t" style="font-size:9.4px;color:#141414;transform:translate(973.25px,911.30px) scaleX(1.0293)">ACW Avg After Call Work</span>
<span class="t" style="font-size:9.4px;color:#141414;transform:translate(973.10px,920.97px) scaleX(1.0282)">(s)</span>
</main>
<div class="b" id="vtrack"></div><div class="b" id="htrack"></div>
<div class="b" id="vthumb"></div><div class="b" id="hthumb"></div>
<footer>
<div class="b" id="foot"></div>
<span class="t" style="-webkit-text-stroke:0.2px #111;font-size:12.4px;color:#111;transform:translate(7.88px,984.11px) scaleX(1.0359)">© 2008-2025 Calabrio, Inc. All rights reserved.</span>
</footer>
<aside id="assistant">
<svg class="ov" width="1920" height="998" viewBox="0 0 1920 998">
<defs><filter id="sh" x="-30%" y="-30%" width="160%" height="160%"><feGaussianBlur stdDeviation="1.6"/></filter></defs>
<ellipse cx="1851.5" cy="939.8" rx="23.5" ry="21" fill="#fcfbfa"/>
<circle cx="1875.1" cy="955.6" r="25" fill="#000" opacity="0.13" filter="url(#sh)"/>
<circle cx="1875.3" cy="954.6" r="24.7" fill="#fefefe"/>
<polygon points="1900.00,954.90 1899.93,954.90 1899.74,954.90 1899.41,954.91 1898.96,954.93 1898.40,954.97 1897.72,955.03 1896.93,955.12 1896.06,955.24 1895.10,955.41 1894.07,955.62 1892.99,955.88 1891.86,956.19 1890.69,956.57 1889.51,957.00 1888.32,957.50 1887.14,958.05 1885.98,958.67 1884.84,959.35 1883.75,960.08 1882.71,960.86 1881.72,961.69 1880.80,962.56 1879.95,963.46 1879.17,964.39 1878.47,965.32 1877.84,966.27 1877.30,967.21 1876.83,968.13 1876.43,969.03 1876.10,969.89 1875.84,970.71 1875.63,971.47 1875.48,972.16 1875.36,972.79 1875.29,973.33 1875.24,973.78 1875.22,974.13 1875.20,974.39 1875.20,974.55 1875.20,974.60 1875.20,974.55 1875.20,974.39 1875.18,974.13 1875.16,973.78 1875.11,973.33 1875.04,972.79 1874.92,972.16 1874.77,971.47 1874.56,970.71 1874.30,969.89 1873.97,969.03 1873.57,968.13 1873.10,967.21 1872.56,966.27 1871.93,965.32 1871.23,964.39 1870.45,963.46 1869.60,962.56 1868.68,961.69 1867.69,960.86 1866.65,960.08 1865.56,959.35 1864.42,958.67 1863.26,958.05 1862.08,957.50 1860.89,957.00 1859.71,956.57 1858.54,956.19 1857.41,955.88 1856.33,955.62 1855.30,955.41 1854.34,955.24 1853.47,955.12 1852.68,955.03 1852.00,954.97 1851.44,954.93 1850.99,954.91 1850.66,954.90 1850.47,954.90 1850.40,954.90 1850.47,954.90 1850.66,954.90 1850.99,954.89 1851.44,954.87 1852.00,954.83 1852.68,954.77 1853.47,954.68 1854.34,954.56 1855.30,954.39 1856.33,954.18 1857.41,953.92 1858.54,953.61 1859.71,953.23 1860.89,952.80 1862.08,952.30 1863.26,951.75 1864.42,951.13 1865.56,950.45 1866.65,949.72 1867.69,948.94 1868.68,948.11 1869.60,947.24 1870.45,946.34 1871.23,945.41 1871.93,944.48 1872.56,943.53 1873.10,942.59 1873.57,941.67 1873.97,940.77 1874.30,939.91 1874.56,939.09 1874.77,938.33 1874.92,937.64 1875.04,937.01 1875.11,936.47 1875.16,936.02 1875.18,935.67 1875.20,935.41 1875.20,935.25 1875.20,935.20 1875.20,935.25 1875.20,935.41 1875.22,935.67 1875.24,936.02 1875.29,936.47 1875.36,937.01 1875.48,937.64 1875.63,938.33 1875.84,939.09 1876.10,939.91 1876.43,940.77 1876.83,941.67 1877.30,942.59 1877.84,943.53 1878.47,944.48 1879.17,945.41 1879.95,946.34 1880.80,947.24 1881.72,948.11 1882.71,948.94 1883.75,949.72 1884.84,950.45 1885.98,951.13 1887.14,951.75 1888.32,952.30 1889.51,952.80 1890.69,953.23 1891.86,953.61 1892.99,953.92 1894.07,954.18 1895.10,954.39 1896.06,954.56 1896.93,954.68 1897.72,954.77 1898.40,954.83 1898.96,954.87 1899.41,954.89 1899.74,954.90 1899.93,954.90" fill="#0b1b48"/>
<line x1="1850.3" x2="1899.9" y1="954.9" y2="954.9" stroke="#0b1b48" stroke-width="1.1" opacity="0.6"/><line x1="1875.2" x2="1875.2" y1="935.3" y2="974.5" stroke="#0b1b48" stroke-width="1.1" opacity="0.7"/><ellipse cx="1851.5" cy="939.8" rx="14.55" ry="13" fill="#a6192e"/>
<path d="M1901.6 943 H1915.4 L1908.5 953 Z" fill="#8b8b8b" stroke="#8b8b8b" stroke-width="1.2" stroke-linejoin="round"/>
<path d="M1880.6 964.6 V977.6 L1890.6 971.1 Z" fill="#8b8b8b" stroke="#8b8b8b" stroke-width="1.2" stroke-linejoin="round"/>
<path d="M16 964.6 V977.6 L6.6 971.1 Z" fill="#8b8b8b" stroke="#8b8b8b" stroke-width="1.2" stroke-linejoin="round"/>
</svg>
<span class="t" style="-webkit-text-stroke:0.12px #fff;font-size:17.0px;font-family:'Liberation Serif',serif;color:#fff;transform:translate(1846.14px,931.06px) scaleX(1.2376)">8</span>
</aside>
</body></html>
